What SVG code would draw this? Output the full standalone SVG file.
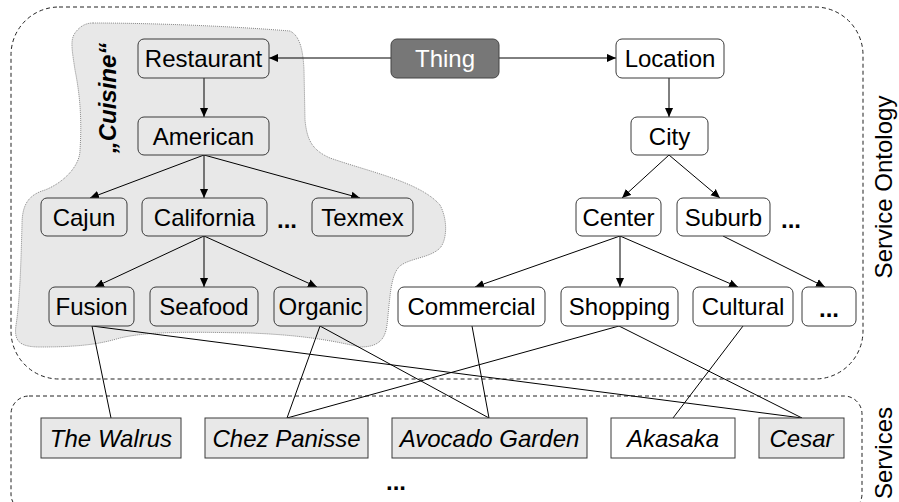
<svg xmlns="http://www.w3.org/2000/svg" width="899" height="502" viewBox="0 0 899 502">
<defs>
<marker id="arr" viewBox="0 0 10 10" refX="10" refY="5" markerWidth="9" markerHeight="9" markerUnits="userSpaceOnUse" orient="auto">
<path d="M0,0.5 L10,5 L0,9.5 Z" fill="#000"/>
</marker>
<style>
text{font-family:"Liberation Sans",Arial,sans-serif;font-size:24px;fill:#000}
.c{text-anchor:middle}
.i{font-style:italic}
.b{font-weight:bold}
.nd{fill:#e8e8e8;stroke:#3a3a3a;stroke-width:1}
.nw{fill:#fff;stroke:#3a3a3a;stroke-width:1}
.sv{fill:#e8e8e8;stroke:#3a3a3a;stroke-width:1}
.sw{fill:#fff;stroke:#3a3a3a;stroke-width:1}
.dash{fill:none;stroke:#222;stroke-width:1;stroke-dasharray:4,3}
.e{stroke:#000;stroke-width:1;fill:none}
.ea{stroke:#000;stroke-width:1;fill:none;marker-end:url(#arr)}
</style>
</defs>
<rect width="899" height="502" fill="#fff"/>
<g id="frames">
<rect class="dash" x="11" y="7" width="852" height="372" rx="48" ry="48"/>
<rect class="dash" x="11" y="396" width="851" height="116" rx="18" ry="18"/>
<text class="c" transform="translate(892,187) rotate(-90)">Service Ontology</text>
<text class="c" transform="translate(892,453) rotate(-90)">Services</text>
</g>
<g id="cuisine">
<path d="M93,23 C150,23 230,26 290,31 C300,36 303,50 304,70 L305,120 C307,140 312,150 330,158 C370,172 420,182 440,205 C448,220 447,240 440,248 C430,258 410,258 400,266 C390,275 390,300 387,325 C385,340 378,347 360,347 C330,340 300,335 250,333 C190,332 150,331 120,338 C100,344 80,347 40,347 C18,347 14,340 16,325 C20,300 21,260 22,225 C22,205 28,195 45,190 C65,182 80,165 80,150 C82,120 80,95 75,70 C72,50 70,40 75,33 C80,26 86,23 93,23 Z" fill="#e8e8e8" stroke="#888" stroke-width="1" stroke-dasharray="1,1"/>
<text class="c b i" transform="translate(116,98) rotate(-90)">„Cuisine“</text>
</g>
<g id="connectors">
<line class="ea" x1="391" y1="58" x2="269" y2="58"/>
<line class="ea" x1="499" y1="58" x2="616" y2="58"/>
<line class="ea" x1="204" y1="78" x2="204" y2="117"/>
<line class="ea" x1="204" y1="155" x2="90" y2="198"/>
<line class="ea" x1="204" y1="155" x2="204" y2="198"/>
<line class="ea" x1="204" y1="155" x2="360" y2="198"/>
<line class="ea" x1="204" y1="236" x2="95" y2="287"/>
<line class="ea" x1="204" y1="236" x2="204" y2="287"/>
<line class="ea" x1="204" y1="236" x2="317" y2="287"/>
<line class="ea" x1="669" y1="78" x2="669" y2="117"/>
<line class="ea" x1="669" y1="155" x2="622" y2="198"/>
<line class="ea" x1="669" y1="155" x2="720" y2="198"/>
<line class="ea" x1="620" y1="236" x2="475" y2="287"/>
<line class="ea" x1="620" y1="236" x2="620" y2="287"/>
<line class="ea" x1="620" y1="236" x2="738" y2="287"/>
<line class="ea" x1="723" y1="236" x2="825" y2="287"/>
<line class="e" x1="92" y1="326" x2="111" y2="418"/>
<line class="e" x1="92" y1="326" x2="802" y2="418"/>
<line class="e" x1="320" y1="326" x2="287" y2="418"/>
<line class="e" x1="320" y1="326" x2="489" y2="418"/>
<line class="e" x1="472" y1="326" x2="489" y2="418"/>
<line class="e" x1="619" y1="326" x2="287" y2="418"/>
<line class="e" x1="619" y1="326" x2="802" y2="418"/>
<line class="e" x1="743" y1="326" x2="673" y2="418"/>
</g>
<g id="thing"><rect x="391" y="39" width="108" height="39" rx="6" fill="#777" stroke="#444"/><text class="c" x="445" y="67" style="fill:#fff">Thing</text></g>
<g id="restaurant"><rect class="nd" x="138" y="39" width="131" height="39" rx="6"/><text class="c" x="203.5" y="67">Restaurant</text></g>
<g id="location"><rect class="nw" x="616" y="39" width="108" height="39" rx="6"/><text class="c" x="670" y="67">Location</text></g>
<g id="american"><rect class="nd" x="138" y="117" width="131" height="38" rx="6"/><text class="c" x="203.5" y="144.5">American</text></g>
<g id="city"><rect class="nw" x="631" y="117" width="77" height="38" rx="6"/><text class="c" x="669.5" y="144.5">City</text></g>
<g id="cajun"><rect class="nd" x="41" y="198" width="86" height="38" rx="6"/><text class="c" x="84" y="225.5">Cajun</text></g>
<g id="california"><rect class="nd" x="142" y="198" width="125" height="38" rx="6"/><text class="c" x="204.5" y="225.5">California</text></g>
<g id="dots1"><text class="b" x="277" y="228">...</text></g>
<g id="texmex"><rect class="nd" x="312" y="198" width="101" height="38" rx="6"/><text class="c" x="362.5" y="225.5">Texmex</text></g>
<g id="center"><rect class="nw" x="576" y="198" width="85" height="38" rx="6"/><text class="c" x="618.5" y="225.5">Center</text></g>
<g id="suburb"><rect class="nw" x="677" y="198" width="93" height="38" rx="6"/><text class="c" x="723.5" y="225.5">Suburb</text></g>
<g id="dots2"><text class="b" x="781" y="228">...</text></g>
<g id="fusion"><rect class="nd" x="49" y="287" width="85" height="39" rx="6"/><text class="c" x="91.5" y="315">Fusion</text></g>
<g id="seafood"><rect class="nd" x="150" y="287" width="108" height="39" rx="6"/><text class="c" x="204" y="315">Seafood</text></g>
<g id="organic"><rect class="nd" x="274" y="287" width="93" height="39" rx="6"/><text class="c" x="320.5" y="315">Organic</text></g>
<g id="commercial"><rect class="nw" x="398" y="287" width="147" height="39" rx="6"/><text class="c" x="471.5" y="315">Commercial</text></g>
<g id="shopping"><rect class="nw" x="561" y="287" width="117" height="39" rx="6"/><text class="c" x="619.5" y="315">Shopping</text></g>
<g id="cultural"><rect class="nw" x="693" y="287" width="100" height="39" rx="6"/><text class="c" x="743" y="315">Cultural</text></g>
<g id="more"><rect class="nw" x="802" y="287" width="54" height="39" rx="6"/><text class="c b" x="829" y="317">...</text></g>
<g id="walrus"><rect class="sv" x="41" y="418" width="140" height="40"/><text class="c i" x="111" y="446.5">The Walrus</text></g>
<g id="chez"><rect class="sv" x="205" y="418" width="163" height="40"/><text class="c i" x="286.5" y="446.5">Chez Panisse</text></g>
<g id="avocado"><rect class="sv" x="392" y="418" width="195" height="40"/><text class="c i" x="489.5" y="446.5">Avocado Garden</text></g>
<g id="akasaka"><rect class="sw" x="611" y="418" width="124" height="40"/><text class="c i" x="673" y="446.5">Akasaka</text></g>
<g id="cesar"><rect class="sv" x="759" y="418" width="85" height="40"/><text class="c i" x="801.5" y="446.5">Cesar</text></g>
<g id="dots3"><text class="b" x="386" y="490">...</text></g>
</svg>
